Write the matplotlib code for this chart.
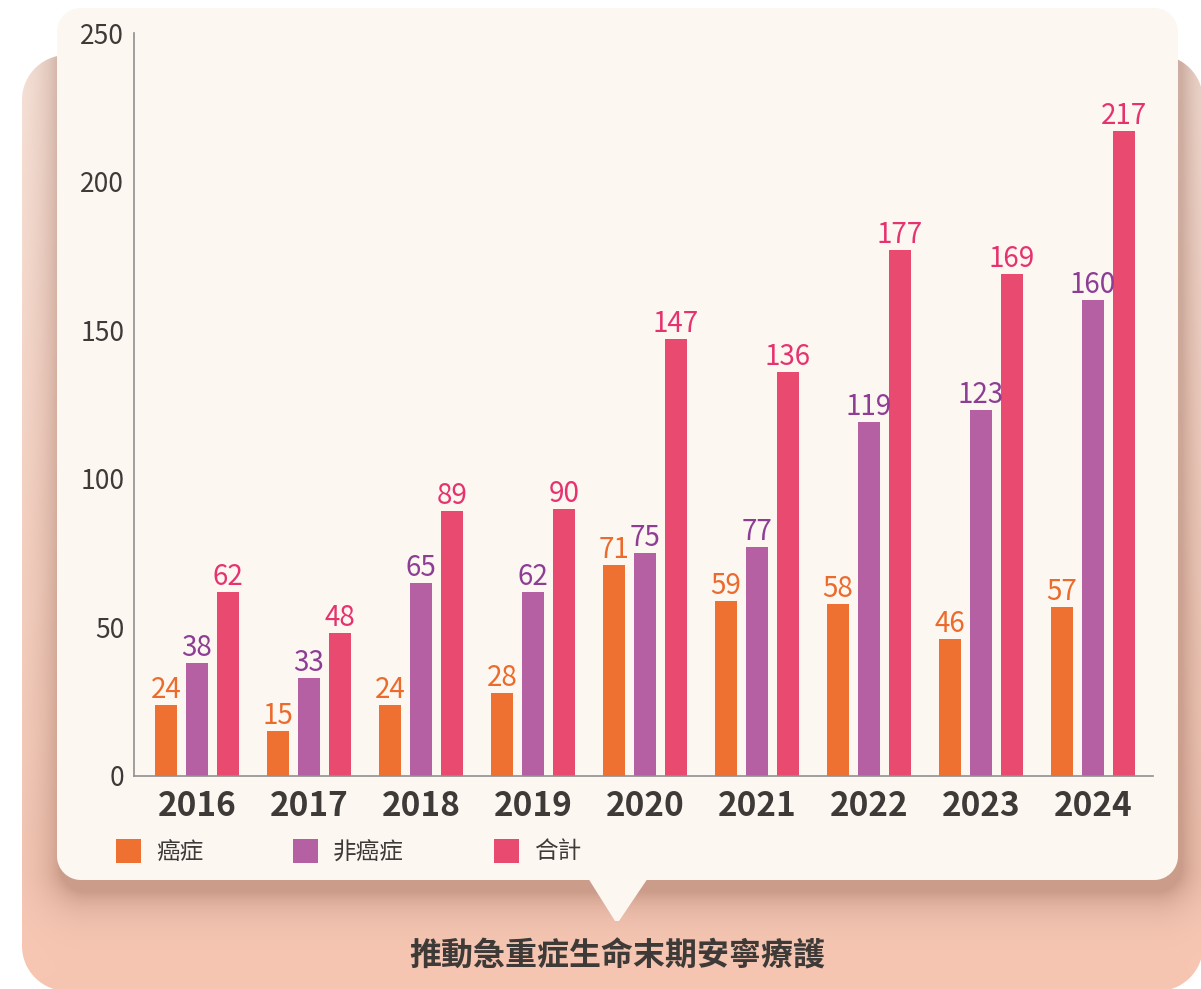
import numpy as np
import matplotlib
matplotlib.use('Agg')
import matplotlib.pyplot as plt
from matplotlib.patches import Polygon

plt.rcParams['font.family'] = ['Noto Sans CJK TC', 'DejaVu Sans']

# data
years = ['2016', '2017', '2018', '2019', '2020', '2021', '2022', '2023', '2024']
cancer = [24, 15, 24, 28, 71, 59, 58, 46, 57]
non_cancer = [38, 33, 65, 62, 75, 77, 119, 123, 160]
total = [62, 48, 89, 90, 147, 136, 177, 169, 217]
series_names = ['癌症', '非癌症', '合計']
title = '推動急重症生命末期安寧療護'

bar_colors = ['#ef7131', '#b560a2', '#e94a6f']
label_colors = ['#ec6a2c', '#8e3d95', '#e6336f']
text_color = '#3d3a38'

W, H = 1201, 989
fig = plt.figure(figsize=(W / 100, H / 100), dpi=100)
fig.patch.set_facecolor('white')

# ---- background: pink panel, shadow, cream card (pixel space) ----
yy, xx = np.mgrid[0:H, 0:W] + 0.5


def rrect_dist(x0, y0, x1, y1, r):
    cx, cy = (x0 + x1) / 2, (y0 + y1) / 2
    hx, hy = (x1 - x0) / 2, (y1 - y0) / 2
    qx = np.abs(xx - cx) - (hx - r)
    qy = np.abs(yy - cy) - (hy - r)
    out = np.hypot(np.maximum(qx, 0), np.maximum(qy, 0))
    return out + np.minimum(np.maximum(qx, qy), 0) - r


def hex2rgb(h):
    return np.array([int(h[i:i + 2], 16) for i in (1, 3, 5)]) / 255.0


img = np.ones((H, W, 3))

# pink panel with vertical gradient
d_pink = rrect_dist(22, 55, 1203, 991, 45)
m_pink = np.clip(0.5 - d_pink, 0, 1)[..., None]
top_c, bot_c = hex2rgb('#fce9e0'), hex2rgb('#f7c6b2')
t = np.clip((yy - 55) / (989 - 55), 0, 1)[..., None]
pink = top_c * (1 - t) + bot_c * t
img = img * (1 - m_pink) + pink * m_pink

# shadow of the card, only over the pink panel
d_sh = rrect_dist(60, 14, 1182, 892, 26)
a_sh = 0.40 * np.exp(-np.maximum(d_sh, 0) / 20.0)
a_sh = (a_sh * m_pink[..., 0])[..., None]
sh_c = hex2rgb('#8a5846')
img = img * (1 - a_sh) + sh_c * a_sh

# cream card
d_card = rrect_dist(57, 8, 1178, 880, 24)
m_card = np.clip(0.5 - d_card, 0, 1)[..., None]
cream = hex2rgb('#fcf7f1')
img = img * (1 - m_card) + cream * m_card

bg = fig.add_axes([0, 0, 1, 1], zorder=0)
bg.imshow(img, extent=(0, W, H, 0), aspect='auto', interpolation='bilinear')
bg.add_patch(Polygon([(588, 878), (648, 878), (619, 921), (615, 921)],
                     closed=True, facecolor='#fcf7f1', edgecolor='none'))
bg.set_xlim(0, W)
bg.set_ylim(H, 0)
bg.axis('off')

# ---- chart ----
ax = fig.add_axes([134 / W, 213 / H, (1153 - 134) / W, 743 / H], zorder=1)
ax.set_facecolor('none')

x = np.arange(len(years))
width = 0.196
offset = 0.277
bars = []
for i, (vals, bc, lc) in enumerate(zip([cancer, non_cancer, total], bar_colors, label_colors)):
    b = ax.bar(x + (i - 1) * offset, vals, width, color=bc, label=series_names[i])
    bars.append(b)
    ax.bar_label(b, labels=[str(v) for v in vals], padding=0, color=lc, fontsize=20)

ax.set_xlim(-0.5625, 8.536)
ax.set_ylim(0, 250)
ax.set_yticks([0, 50, 100, 150, 200, 250])
ax.set_xticks(x)
ax.set_xticklabels(years, fontsize=24, fontweight='semibold', color=text_color)
ax.tick_params(axis='y', length=0, pad=7, labelsize=19, labelcolor=text_color)
ax.tick_params(axis='x', length=0, pad=10)

for s in ['top', 'right']:
    ax.spines[s].set_visible(False)
for s in ['left', 'bottom']:
    ax.spines[s].set_color('#8f8f8f')
    ax.spines[s].set_linewidth(1.2)

fs = 17
fpx = fs * 100 / 72
leg = fig.legend(handles=bars, labels=series_names, loc='center left',
                 bbox_to_anchor=(116 / W, 1 - 851 / H), ncol=3, frameon=False,
                 fontsize=fs, handlelength=25 / fpx, handleheight=28 / fpx,
                 handletextpad=15 / fpx, columnspacing=90 / fpx, borderpad=0,
                 borderaxespad=0)
for txt in leg.get_texts():
    txt.set_color(text_color)

fig.text(617 / W, 1 - 957 / H, title, ha='center', va='center',
         fontsize=23, fontweight='bold', color=text_color)

fig.savefig('out.png', dpi=100)
